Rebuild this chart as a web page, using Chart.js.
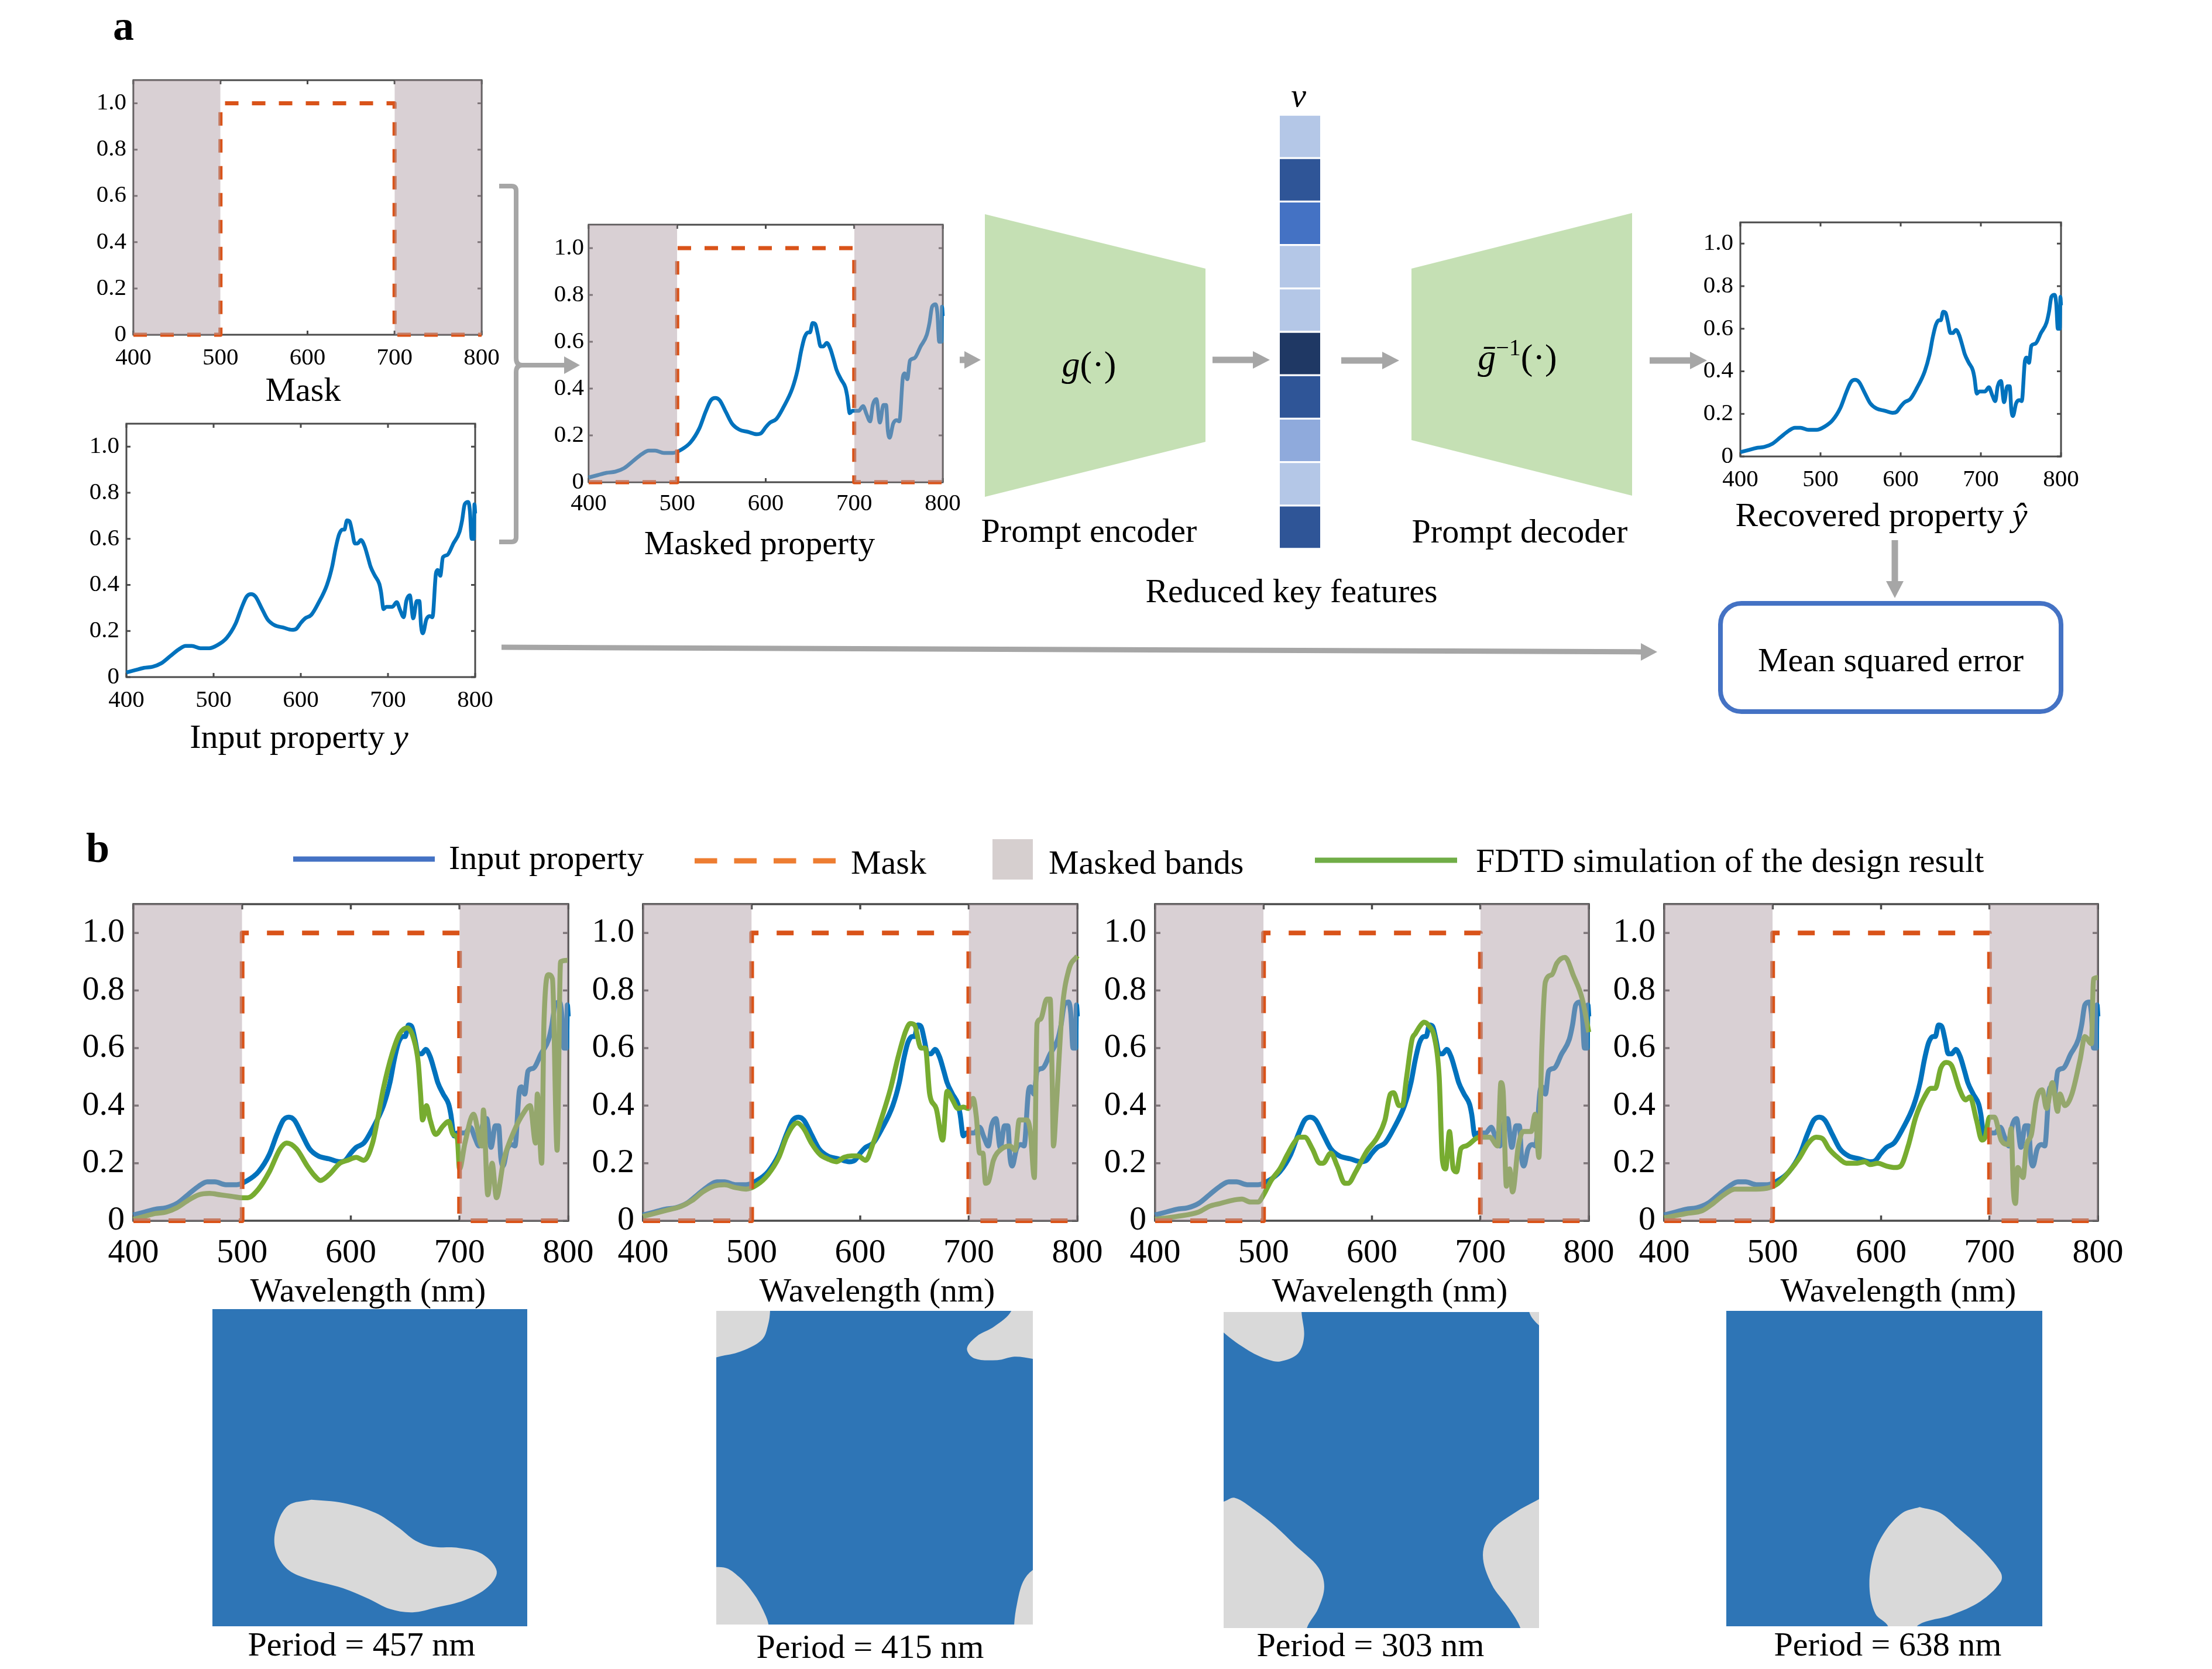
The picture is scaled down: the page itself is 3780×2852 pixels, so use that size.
<!DOCTYPE html>
<html>
<head>
<meta charset="utf-8">
<title>Prompt encoder figure</title>
<script src="https://cdn.jsdelivr.net/npm/chart.js@4"></script>
<style>
  html,body{margin:0;padding:0;background:#fff;}
  #page{position:relative;width:3780px;height:2852px;overflow:hidden;background:#fff;}
  canvas{position:absolute;}
  svg{position:absolute;left:0;top:0;}
  svg text{font-family:"Liberation Serif",serif;fill:#000;}
</style>
</head>
<body>
<div id="page"></div>
<script>
/* ================= DATA ================= */
const xTicks = [400,500,600,700,800];
const yTicks = [0,0.2,0.4,0.6,0.8,1.0];

const maskX = [400,500,500,700,700,800];
const maskY = [0,0,1,1,0,0];
const leftBandX  = [400,500];
const rightBandX = [700,800];
const bandTop = 1.1;

// input spectrum, [wavelength, value]
const inputProperty = [[400,.02],[410,.03],[420,.04],[430,.045],[440,.06],[450,.09],[460,.12],[468,.135],[475,.135],[485,.125],[495,.125],[505,.14],[515,.17],[525,.23],[532,.30],[538,.35],[543,.36],[548,.35],[555,.30],[562,.25],[570,.225],[580,.215],[590,.205],[595,.21],[600,.235],[605,.255],[612,.27],[620,.32],[630,.40],[636,.48],[640,.56],[644,.62],[648,.64],[650,.64],[653,.68],[656,.675],[659,.63],[662,.58],[665,.58],[669,.595],[673,.57],[677,.52],[680,.48],[685,.44],[690,.405],[692,.37],[695,.295],[698,.305],[705,.305],[710,.325],[714,.29],[718,.26],[721,.33],[725,.355],[729,.255],[733,.33],[736,.33],[738,.22],[740,.19],[744,.25],[748,.265],[751,.26],[755,.45],[757,.465],[760,.44],[763,.52],[768,.53],[775,.58],[782,.63],[785,.68],[788,.75],[792,.76],[794,.72],[796,.60],[798.5,.60],[799.2,.75],[800,.71]];

// FDTD simulation, one per design
const fdtd1 = [[400,.005],[410,.015],[420,.025],[430,.03],[440,.045],[450,.07],[460,.09],[470,.095],[480,.09],[490,.085],[500,.08],[505,.08],[515,.11],[525,.17],[535,.25],[541,.27],[550,.25],[560,.19],[567,.155],[572,.14],[580,.16],[590,.20],[597,.21],[605,.22],[612,.21],[620,.27],[625,.36],[630,.46],[638,.58],[645,.65],[652,.67],[658,.63],[662,.55],[664,.45],[666,.35],[669.6,.40],[673,.35],[678,.30],[685,.33],[690,.345],[694,.30],[698,.285],[700,.18],[705,.27],[712.8,.37],[720.6,.26],[722,.385],[726,.09],[730,.20],[734,.08],[740.6,.21],[750,.31],[759,.375],[765,.40],[770,.27],[771.6,.44],[775.6,.20],[777.7,.69],[782,.855],[785.5,.84],[789.8,.245],[793,.90],[799.4,.905]];
const fdtd2 = [[400,.015],[420,.035],[435,.05],[445,.07],[455,.10],[465,.12],[475,.125],[485,.115],[495,.11],[505,.125],[515,.16],[525,.22],[532,.29],[538,.33],[542,.34],[548,.32],[555,.27],[563,.23],[570,.215],[578,.205],[585,.22],[592,.225],[598,.225],[605,.21],[612,.27],[620,.36],[628,.46],[635,.57],[642,.66],[646,.685],[650,.68],[656,.60],[660,.60],[664,.44],[670,.39],[676,.28],[680,.45],[685,.42],[690,.39],[695,.395],[699.5,.39],[704,.425],[707,.36],[710,.235],[713,.235],[715.5,.13],[718,.135],[722.7,.21],[730.4,.25],[738,.26],[742.8,.245],[746.5,.35],[753.6,.35],[756.7,.31],[760.4,.15],[762.9,.685],[766,.70],[772,.77],[775,.77],[776.8,.50],[778,.26],[780.5,.39],[786,.73],[792,.87],[800,.92]];
const fdtd3 = [[400,.005],[420,.015],[440,.03],[450,.05],[460,.06],[470,.07],[480,.075],[488,.065],[495,.065],[500,.09],[507,.14],[515,.18],[522,.23],[528,.27],[533,.29],[538,.29],[545,.25],[552,.20],[555,.20],[562,.235],[568,.19],[575,.13],[578,.13],[585,.17],[595,.24],[605,.29],[612,.35],[617,.44],[620,.445],[625,.40],[628,.40],[632,.50],[637,.63],[640,.65],[645,.68],[648,.69],[652,.68],[658,.63],[662,.50],[665,.21],[668,.18],[671.5,.31],[675,.18],[678,.17],[682,.25],[687,.26],[699,.29],[708.7,.29],[716,.26],[719,.48],[721,.45],[724,.12],[727,.18],[729.7,.10],[735,.26],[739.6,.31],[747,.31],[750.5,.37],[754,.22],[756.6,.59],[760,.83],[766,.855],[770.6,.895],[778,.915],[786,.85],[794,.77],[800,.655]];
const fdtd4 = [[400,.01],[420,.025],[435,.035],[445,.06],[455,.09],[465,.11],[475,.11],[485,.11],[497,.115],[505,.13],[515,.17],[525,.22],[533,.27],[540,.29],[546,.285],[552,.25],[560,.22],[568,.20],[578,.20],[585,.205],[590,.195],[597,.20],[605,.19],[613,.185],[618,.19],[625,.26],[632,.36],[640,.43],[646,.46],[650,.46],[655,.53],[660,.55],[665,.54],[672,.46],[678,.42],[682,.43],[688,.35],[693,.28],[696,.29],[700,.36],[704.6,.36],[710.8,.28],[717.6,.265],[720,.32],[722,.11],[724,.06],[726,.185],[731,.15],[734,.26],[738.7,.30],[743,.415],[748.6,.455],[752.6,.39],[758,.48],[762.8,.38],[765,.44],[769.6,.40],[776,.44],[783.6,.56],[788,.64],[794,.615],[796,.84],[800,.845]];

// reduced key features, top to bottom
const featureCells = [1,1,1,1,1,1,1,1,1,1];
const featureColors = ["#B4C7E7","#2F5597","#4472C4","#B4C7E7","#B4C7E7","#1F3864","#2F5597","#8FAADC","#B4C7E7","#2F5597"];

// unit cell patterns, percent of cell width and height
const cellSquare = [[0,0],[100,0],[100,100],[0,100],[0,0]];
const pattern1 = [[[31.4,39.9],[41.5,38.9],[51.7,35.8],[59,31.2],[64.5,27],[70,25.1],[78.3,24.7],[85.7,22.8],[90.3,17.4],[87.5,12.4],[80.1,8.2],[71,5.9],[63.6,4.4],[56.3,5.5],[49.8,8.6],[41.5,12],[28.7,15.5],[23.2,18.6],[19.9,24.7],[20.4,31.6],[24.1,38.1],[31.4,39.9]]];
const pattern2 = [
  [[-6,106],[17,106],[17,100],[16.4,95.7],[14.6,91],[9.1,87.6],[2.7,85.8],[-6,85.2],[-6,106]],
  [[93.2,106],[93.2,100],[87.8,95],[82.3,91.9],[79.2,88],[81.4,84.9],[88.8,84.3],[94.1,85.4],[106,85.4],[106,106],[93.2,106]],
  [[-6,17.5],[2.4,18.2],[7.3,15.1],[11.9,9.7],[14.6,5],[16.5,0],[16.5,-6],[-6,-6],[-6,17.5]],
  [[106,20],[100,17.4],[96.9,13.6],[95,6.6],[94.1,0],[94.1,-6],[106,-6],[106,20]]
];
const pattern3 = [
  [[-6,106],[24.7,106],[24.7,100],[25.5,92.3],[23.6,86.9],[18.1,84.4],[14.5,84.8],[8.1,87.7],[0,93.5],[-6,100],[-6,106]],
  [[96.9,106],[96.9,100],[100,95.8],[106,92],[106,106],[96.9,106]],
  [[-6,39],[0,40],[3.5,41.2],[9.9,37.3],[16.3,32.3],[22.7,26.2],[30,19.2],[31.9,13.1],[30,6.2],[26.4,0],[26,-6],[-6,-6],[-6,39]],
  [[106,44],[100,40.8],[92.3,36.5],[85,30.8],[82.2,23.1],[85,13.8],[90.5,6.2],[94.1,0],[95,-6],[106,-6],[106,44]]
];
const pattern4 = [[[61.2,37.8],[67.6,36],[73.1,31.4],[80.4,24.8],[86.8,17.1],[86.8,14],[80.4,7.9],[71.3,3.6],[60.3,0],[60,-6],[51,-6],[51.2,0],[47.2,4],[45.3,12.5],[46.6,22.5],[50.3,30.2],[55.8,36],[61.2,37.8]]];

/* ================= STYLE ================= */
const FONT = '"Liberation Serif", serif';
const BLUE = "#0072BD";
const GREEN = "#77AC30";
const MASK_RED = "#D95319";
const BAND = "rgba(180,161,170,0.5)";
const FRAME = "#4A4A4A";
const GREY_ARROW = "#A6A6A6";
const page = document.getElementById("page");

function addCanvas(x,y,w,h){
  const c = document.createElement("canvas");
  c.width = w; c.height = h;
  c.style.left = x+"px"; c.style.top = y+"px";
  c.style.width = w+"px"; c.style.height = h+"px";
  page.appendChild(c);
  return c;
}

/* frame and inward ticks, Matlab box style */
const boxPlugin = {
  id:"box",
  beforeDatasetsDraw(chart,args,o){
    const a = chart.chartArea, c = chart.ctx;
    c.save();
    c.strokeStyle = FRAME;
    c.lineWidth = o.lw;
    c.strokeRect(a.left,a.top,a.right-a.left,a.bottom-a.top);
    c.beginPath();
    xTicks.forEach(v=>{
      const p = chart.scales.x.getPixelForValue(v);
      c.moveTo(p,a.top); c.lineTo(p,a.top+o.tick);
      c.moveTo(p,a.bottom); c.lineTo(p,a.bottom-o.tick);
    });
    yTicks.forEach(v=>{
      const p = chart.scales.y.getPixelForValue(v);
      c.moveTo(a.left,p); c.lineTo(a.left+o.tick,p);
      c.moveTo(a.right,p); c.lineTo(a.right-o.tick,p);
    });
    c.stroke();
    c.restore();
  }
};

function toXY(pairs){ return pairs.map(p=>({x:p[0],y:p[1]})); }

function spectrum(box,cfg){
  const mL=110, mR=70, mT=80, mB=90;
  const w = box.r-box.l, h = box.b-box.t;
  const canvas = addCanvas(box.l-mL,box.t-mT,w+mL+mR,h+mT+mB);
  const datasets = [];
  const lines = {type:"line",pointRadius:0,clip:14,borderCapStyle:"butt",fill:false};
  if(cfg.band){
    [leftBandX,rightBandX].forEach(xs=>{
      datasets.push({type:"line",data:xs.map(x=>({x,y:bandTop})),pointRadius:0,borderWidth:0,
        backgroundColor:BAND,fill:"origin",order:0});
    });
  }
  if(cfg.mask){
    datasets.push({...lines,data:maskX.map((x,i)=>({x,y:maskY[i]})),borderColor:MASK_RED,
      borderWidth:cfg.maskW,borderDash:cfg.maskDash,borderJoinStyle:"round",order:1});
  }
  if(cfg.fdtd){
    datasets.push({...lines,data:toXY(cfg.fdtd),borderColor:GREEN,borderWidth:cfg.lw,
      cubicInterpolationMode:"monotone",order:2});
  }
  if(cfg.input){
    datasets.push({...lines,data:toXY(inputProperty),borderColor:BLUE,borderWidth:cfg.lw,
      cubicInterpolationMode:"monotone",order:3});
  }
  const tickFont = {family:FONT,size:cfg.font};
  return new Chart(canvas,{
    data:{datasets},
    plugins:[boxPlugin],
    options:{
      responsive:false,animation:false,devicePixelRatio:1,
      layout:{padding:{left:0,right:mR,top:mT,bottom:0}},
      plugins:{legend:{display:false},tooltip:{enabled:false},
        box:{lw:cfg.frame,tick:cfg.tick}},
      scales:{
        x:{type:"linear",min:400,max:800,
          afterBuildTicks:s=>{s.ticks=xTicks.map(v=>({value:v}));},
          afterFit:s=>{s.height=mB;},
          grid:{display:false},border:{display:false},
          ticks:{font:tickFont,color:"#000",padding:cfg.xPad,maxRotation:0,autoSkip:false}},
        y:{type:"linear",min:0,max:1.1,
          afterBuildTicks:s=>{s.ticks=yTicks.map(v=>({value:v}));},
          afterFit:s=>{s.width=mL;},
          grid:{display:false},border:{display:false},
          ticks:{font:tickFont,color:"#000",padding:cfg.yPad,autoSkip:false,
            callback:v=>v===0?"0":v.toFixed(1)}}
      }
    }
  });
}

function patternChart(box,shapes){
  const canvas = addCanvas(box.l,box.t,box.r-box.l,box.b-box.t);
  const datasets = [{type:"scatter",data:toXY(cellSquare),showLine:true,pointRadius:0,borderWidth:0,
    backgroundColor:"#2E75B6",fill:"shape",tension:0,order:9}];
  shapes.forEach(s=>datasets.push({type:"scatter",data:toXY(s),showLine:true,pointRadius:0,borderWidth:0,
    backgroundColor:"#D9D9D9",fill:"shape",tension:0.35,order:1}));
  new Chart(canvas,{
    data:{datasets},
    options:{responsive:false,animation:false,devicePixelRatio:1,
      plugins:{legend:{display:false},tooltip:{enabled:false}},
      scales:{x:{type:"linear",min:0,max:100,display:false},y:{type:"linear",min:0,max:100,display:false}}}
  });
}

function featureChart(box){
  const canvas = addCanvas(box.l,box.t,box.r-box.l,box.b-box.t);
  new Chart(canvas,{
    type:"bar",
    data:{labels:featureCells.map((v,i)=>i),datasets:[{data:featureCells,backgroundColor:featureColors,
      borderColor:"#fff",borderWidth:{top:2,bottom:2},barPercentage:1,categoryPercentage:1}]},
    options:{indexAxis:"y",responsive:false,animation:false,devicePixelRatio:1,
      plugins:{legend:{display:false},tooltip:{enabled:false}},
      scales:{x:{min:0,max:1,display:false},y:{display:false}}}
  });
}

/* ================= PANEL A ================= */
const smallPlot = {font:41,lw:6.5,frame:3,tick:7,xPad:8,yPad:4,maskW:7,maskDash:[23,23]};
spectrum({l:228,t:137,r:823,b:572},{...smallPlot,band:true,mask:true});
spectrum({l:216,t:724,r:812,b:1157},{...smallPlot,input:true});
spectrum({l:1006,t:384,r:1611,b:824},{...smallPlot,band:true,mask:true,input:true,xPad:5,yPad:0});
spectrum({l:2974,t:380,r:3522,b:780},{...smallPlot,input:true});

featureChart({l:2187,t:196,r:2256,b:938});

/* ================= PANEL B ================= */
const bigPlot = {font:58,lw:8.5,frame:3.5,tick:9,xPad:13,yPad:7,maskW:8,maskDash:[29,31],band:true,mask:true,input:true};
spectrum({l:228,t:1545,r:971,b:2086},{...bigPlot,fdtd:fdtd1});
spectrum({l:1099,t:1545,r:1841,b:2086},{...bigPlot,fdtd:fdtd2});
spectrum({l:1974,t:1545,r:2715,b:2086},{...bigPlot,fdtd:fdtd3});
spectrum({l:2844,t:1545,r:3585,b:2086},{...bigPlot,fdtd:fdtd4});

patternChart({l:363,t:2237,r:901,b:2779},pattern1);
patternChart({l:1224,t:2240,r:1765,b:2776},pattern2);
patternChart({l:2091,t:2242,r:2630,b:2782},pattern3);
patternChart({l:2950,t:2240,r:3490,b:2779},pattern4);

/* ================= DIAGRAM OVERLAY ================= */
function arrow(x1,y1,x2,y2,w,hl,hw){
  const a = Math.atan2(y2-y1,x2-x1), cx = Math.cos(a), sy = Math.sin(a);
  const bx = x2-hl*cx, by = y2-hl*sy;
  return `<line x1="${x1}" y1="${y1}" x2="${bx}" y2="${by}" stroke="${GREY_ARROW}" stroke-width="${w}"/>`+
    `<polygon fill="${GREY_ARROW}" points="${x2},${y2} ${bx-hw/2*sy},${by+hw/2*cx} ${bx+hw/2*sy},${by-hw/2*cx}"/>`;
}
function txt(s,x,y,size,anchor,extra){
  return `<text x="${x}" y="${y}" font-size="${size}" text-anchor="${anchor||"middle"}" ${extra||""}>${s}</text>`;
}

let svg = "";
// encoder and decoder
svg += `<polygon fill="#C5E0B4" points="1683,366 2060,459 2060,755 1683,849"/>`;
svg += `<polygon fill="#C5E0B4" points="2412,459 2789,364 2789,847 2412,752"/>`;
// bracket
svg += `<path d="M853,318 H874 Q882,318 882,326 V612 Q882,624 892,624 M853,926 H874 Q882,926 882,918 V636 Q882,624 892,624" fill="none" stroke="${GREY_ARROW}" stroke-width="8"/>`;
svg += arrow(888,624,991,624,8,27,30);
svg += arrow(1640,615,1676,615,11,28,30);
svg += arrow(2072,615,2170,615,11,29,30);
svg += arrow(2292,616,2391,616,11,29,30);
svg += arrow(2819,616,2917,616,11,29,30);
svg += arrow(3238,923,3238,1022,11,29,30);
svg += arrow(857,1106,2832,1114,9,28,30);
svg += `<rect x="2940" y="1031" width="582" height="185" rx="36" ry="36" fill="none" stroke="#4472C4" stroke-width="8"/>`;

// legend
svg += `<line x1="501" y1="1468" x2="743" y2="1468" stroke="#4472C4" stroke-width="9"/>`;
svg += `<line x1="1187" y1="1471" x2="1429" y2="1471" stroke="#ED7D31" stroke-width="9" stroke-dasharray="38.5 29"/>`;
svg += `<rect x="1696" y="1434" width="69" height="69" fill="#D6CFCF"/>`;
svg += `<line x1="2247" y1="1470" x2="2490" y2="1470" stroke="#70AD47" stroke-width="9"/>`;

// text
svg += txt("a",193,68,72,"start",'font-weight="bold"');
svg += txt("b",147,1473,72,"start",'font-weight="bold"');
svg += txt("Mask",518,685,58);
svg += txt('Input property <tspan font-style="italic">y</tspan>',511,1278,58);
svg += txt("Masked property",1298,947,58);
svg += txt("Prompt encoder",1861,926,58);
svg += txt("Reduced key features",2207,1029,58);
svg += txt("v",2219,182,58,"middle",'font-style="italic"');
svg += txt('<tspan font-style="italic">g</tspan>(·)',1861,643,62);
svg += txt('<tspan font-style="italic">ḡ</tspan><tspan font-size="40" dy="-24">−1</tspan><tspan dy="24">(·)</tspan>',2593,631,62);
svg += txt("Prompt decoder",2597,927,58);
svg += txt('Recovered property <tspan font-style="italic">ŷ</tspan>',3215,899,58);
svg += txt("Mean squared error",3231,1147,58);
svg += txt("Input property",767,1485,58,"start");
svg += txt("Mask",1454,1493,58,"start");
svg += txt("Masked bands",1792,1493,58,"start");
svg += txt("FDTD simulation of the design result",2522,1490,58,"start");
[629,1499,2375,3244].forEach(x=>{ svg += txt("Wavelength (nm)",x,2224,58); });
svg += txt("Period = 457 nm",618,2829,58);
svg += txt("Period = 415 nm",1487,2833,58);
svg += txt("Period = 303 nm",2342,2830,58);
svg += txt("Period = 638 nm",3226,2829,58);

const overlay = document.createElementNS("http://www.w3.org/2000/svg","svg");
overlay.setAttribute("width","3780");
overlay.setAttribute("height","2852");
overlay.innerHTML = svg;
page.appendChild(overlay);
</script>
</body>
</html>
